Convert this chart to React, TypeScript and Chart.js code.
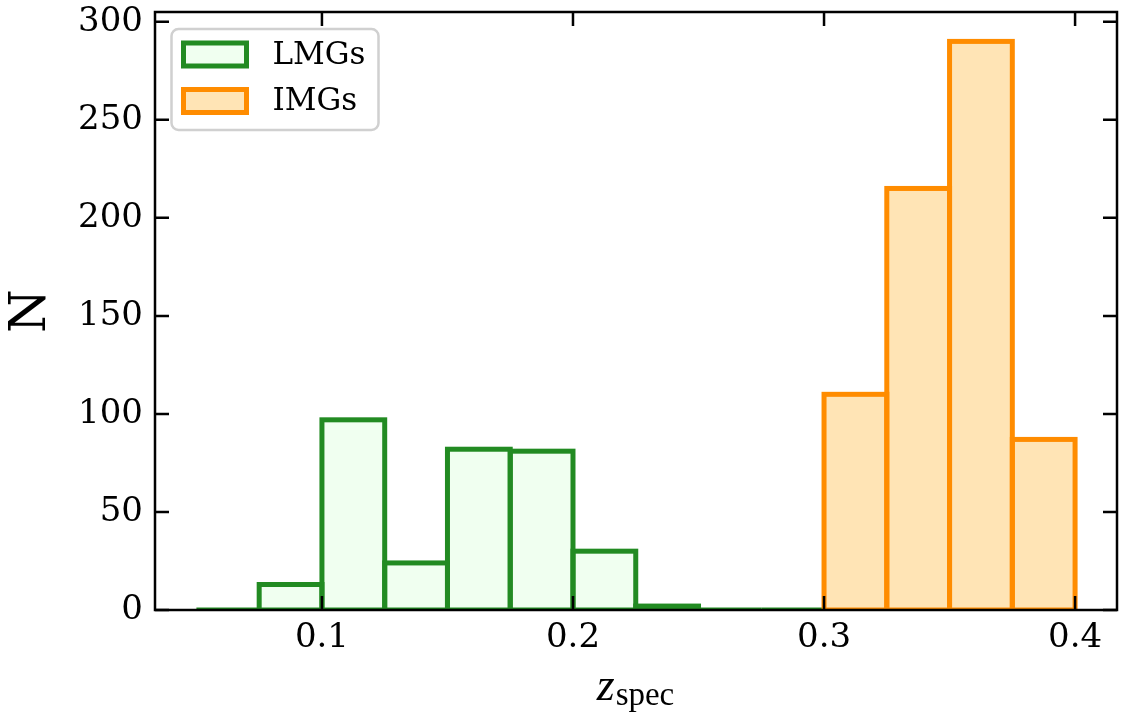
import React, { useEffect, useRef } from 'react';
import { Chart, registerables } from 'chart.js';

Chart.register(...registerables);

// Histogram bin centres (bin width 0.025) and counts
const LMG_Z = [0.0625, 0.0875, 0.1125, 0.1375, 0.1625, 0.1875, 0.2125, 0.2375, 0.2625, 0.2875];
const LMG_N = [0, 13, 97, 24, 82, 81, 30, 2, 0, 0];
const IMG_Z = [0.3125, 0.3375, 0.3625, 0.3875];
const IMG_N = [110, 215, 290, 87];
const SERIES_LABELS = ['LMGs', 'IMGs'];
const X_TICKS = [0.1, 0.2, 0.3, 0.4];
const Y_TICKS = [0, 50, 100, 150, 200, 250, 300];
const X_RANGE = [0.0335, 0.4167];
const Y_RANGE = [0, 305];

const FONT = "'DejaVu Serif', serif";
const EDGE_W = 5;

const histPlugin = {
  id: 'histDecor',
  afterDatasetsDraw(chart: any) {
    const ctx = chart.ctx;
    const a = chart.chartArea;
    ctx.save();
    ctx.beginPath();
    ctx.rect(a.left, a.top, a.right - a.left, a.bottom - a.top);
    ctx.clip();
    chart.data.datasets.forEach((ds: any, i: number) => {
      const meta = chart.getDatasetMeta(i);
      ctx.strokeStyle = ds.edgeColor;
      ctx.lineWidth = EDGE_W;
      ctx.lineJoin = 'miter';
      meta.data.forEach((el: any) => {
        const p = el.getProps(['x', 'y', 'base', 'width'], true);
        const top = Math.min(p.y, p.base);
        ctx.strokeRect(p.x - p.width / 2, top, p.width, Math.abs(p.base - p.y));
      });
    });
    ctx.restore();
  },
  afterDraw(chart: any) {
    const ctx = chart.ctx;
    const a = chart.chartArea;
    const xs = chart.scales.x;
    const ys = chart.scales.y;
    ctx.save();
    // inward ticks on all four sides
    ctx.strokeStyle = '#000';
    ctx.lineWidth = 2.5;
    const TL = 14;
    ctx.beginPath();
    X_TICKS.forEach((v) => {
      const px = xs.getPixelForValue(v);
      ctx.moveTo(px, a.bottom);
      ctx.lineTo(px, a.bottom - TL);
      ctx.moveTo(px, a.top);
      ctx.lineTo(px, a.top + TL);
    });
    Y_TICKS.forEach((v) => {
      const py = ys.getPixelForValue(v);
      ctx.moveTo(a.left, py);
      ctx.lineTo(a.left + TL, py);
      ctx.moveTo(a.right, py);
      ctx.lineTo(a.right - TL, py);
    });
    ctx.stroke();
    // frame
    ctx.strokeRect(a.left, a.top, a.right - a.left, a.bottom - a.top);

    // legend
    const lx = a.left + 16.5;
    const ly = a.top + 17;
    const lw = 207;
    const lh = 101;
    ctx.beginPath();
    if ((ctx as any).roundRect) (ctx as any).roundRect(lx, ly, lw, lh, 7);
    else ctx.rect(lx, ly, lw, lh);
    ctx.fillStyle = 'rgba(255,255,255,0.8)';
    ctx.fill();
    ctx.strokeStyle = '#d0d0d0';
    ctx.lineWidth = 2.5;
    ctx.stroke();
    chart.data.datasets.forEach((ds: any, i: number) => {
      const cy = ly + 25.5 + i * 46.5;
      ctx.fillStyle = ds.backgroundColor;
      ctx.fillRect(lx + 12, cy - 11.5, 63, 23);
      ctx.strokeStyle = ds.edgeColor;
      ctx.lineWidth = EDGE_W;
      ctx.strokeRect(lx + 12, cy - 11.5, 63, 23);
      ctx.fillStyle = '#000';
      ctx.font = `31px ${FONT}`;
      ctx.textAlign = 'left';
      ctx.textBaseline = 'middle';
      ctx.fillText(ds.label, lx + 101, cy + 1);
    });

    // x axis label: z_spec
    const cx = (a.left + a.right) / 2 - 1;
    const by = 700;
    ctx.fillStyle = '#000';
    ctx.textBaseline = 'alphabetic';
    ctx.textAlign = 'left';
    const zFont = `italic 46px 'Liberation Serif', serif`;
    const sFont = `33px 'Liberation Serif', serif`;
    ctx.font = zFont;
    const zw = ctx.measureText('z').width;
    ctx.font = sFont;
    const sw = ctx.measureText('spec').width;
    const start = cx - (zw + sw) / 2;
    ctx.font = zFont;
    ctx.fillText('z', start, by);
    ctx.font = sFont;
    ctx.fillText('spec', start + zw + 1, by + 5);
    ctx.restore();
  },
};

export default function App() {
  const ref = useRef<HTMLCanvasElement>(null);
  useEffect(() => {
    if (!ref.current) return;
    const chart = new Chart(ref.current, {
      type: 'bar',
      data: {
        datasets: [
          {
            label: SERIES_LABELS[0],
            data: LMG_Z.map((z, i) => ({ x: z, y: LMG_N[i] })),
            backgroundColor: '#F0FFF0',
            borderWidth: 0,
            edgeColor: '#228B22',
            grouped: false,
            barPercentage: 1,
            categoryPercentage: 1,
          } as any,
          {
            label: SERIES_LABELS[1],
            data: IMG_Z.map((z, i) => ({ x: z, y: IMG_N[i] })),
            backgroundColor: '#FFE4B5',
            borderWidth: 0,
            edgeColor: '#FF8C00',
            grouped: false,
            barPercentage: 1,
            categoryPercentage: 1,
          } as any,
        ],
      },
      options: {
        animation: false,
        responsive: true,
        maintainAspectRatio: false,
        layout: { padding: { left: 0, right: 13, top: 12, bottom: 0 } },
        plugins: {
          legend: { display: false },
          tooltip: { enabled: false },
        },
        scales: {
          x: {
            type: 'linear',
            min: X_RANGE[0],
            max: X_RANGE[1],
            offset: false,
            grid: { display: false, drawTicks: false },
            border: { display: false },
            afterBuildTicks: (s: any) => {
              s.ticks = X_TICKS.map((v) => ({ value: v }));
            },
            afterFit: (s: any) => {
              s.height = 109;
              s.paddingLeft = 0;
              s.paddingRight = 0;
            },
            ticks: {
              color: '#000',
              padding: 8,
              font: { family: FONT, size: 34 },
              maxRotation: 0,
              autoSkip: false,
              callback: (v: any) => Number(v).toFixed(1),
            },
          },
          y: {
            type: 'linear',
            min: Y_RANGE[0],
            max: Y_RANGE[1],
            grid: { display: false, drawTicks: false },
            border: { display: false },
            afterBuildTicks: (s: any) => {
              s.ticks = Y_TICKS.map((v) => ({ value: v }));
            },
            afterFit: (s: any) => {
              s.width = 155;
              s.paddingTop = 0;
              s.paddingBottom = 0;
            },
            title: {
              display: true,
              text: 'N',
              color: '#000',
              font: { family: FONT, size: 50 },
              padding: { top: 2, bottom: 0 },
            },
            ticks: {
              color: '#000',
              padding: 12,
              font: { family: FONT, size: 34 },
              autoSkip: false,
              callback: (v: any) => String(v),
            },
          },
        },
      } as any,
      plugins: [histPlugin],
    });
    return () => chart.destroy();
  }, []);
  return (
    <div style={{ position: 'fixed', left: 0, top: 0, width: 1130, height: 719, background: '#fff' }}>
      <canvas ref={ref} />
    </div>
  );
}
